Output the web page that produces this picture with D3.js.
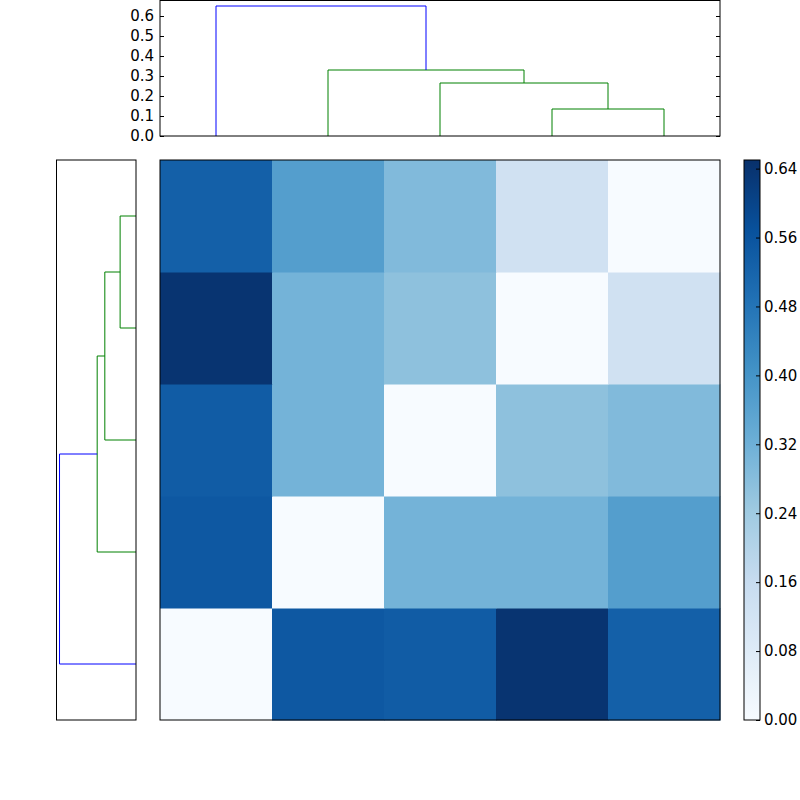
<!DOCTYPE html><html><head><script src="https://cdn.jsdelivr.net/npm/d3@7"></script>
<style>body{margin:0;background:#fff}text{font-family:"DejaVu Sans";font-size:15px}</style></head><body>
<svg id="c" width="800" height="800"></svg>
<script>
const leaves=["A","B","C","D","E"];
const matrix=[
[0.00,0.55,0.54,0.64,0.53],
[0.55,0.00,0.31,0.31,0.37],
[0.54,0.31,0.00,0.27,0.29],
[0.64,0.31,0.27,0.00,0.13],
[0.53,0.37,0.29,0.13,0.00]];
const linkage=[[3,4,0.135],[2,5,0.265],[1,6,0.33],[0,7,0.65]];
const dendroTicks=[0,0.1,0.2,0.3,0.4,0.5,0.6];
const cbarTicks=[0,0.08,0.16,0.24,0.32,0.40,0.48,0.56,0.64];
const vmax=0.65;
const bluesStops=["#f7fbff","#deebf7","#c6dbef","#9ecae1","#6baed6","#4292c6","#2171b5","#08519c","#08306b"];
const blues=d3.scaleLinear().domain(d3.range(9).map(i=>i/8)).range(bluesStops).interpolate(d3.interpolateRgb);

const svg=d3.select("#c");
const H={x0:160,x1:720,y0:160,y1:720};
const band=d3.scaleBand().domain(d3.range(5)).range([H.x0,H.x1]);
const rowBand=d3.scaleBand().domain(d3.range(5).reverse()).range([H.y0,H.y1]);
const color=v=>blues(v/vmax);
matrix.forEach((row,i)=>row.forEach((v,j)=>{
 svg.append("rect").attr("x",band(j)).attr("y",rowBand(i)).attr("width",band.bandwidth()+0.5).attr("height",rowBand.bandwidth()+0.5).attr("fill",color(v));
}));
svg.append("rect").attr("x",H.x0).attr("y",H.y0).attr("width",560).attr("height",560).attr("fill","none").attr("stroke","#000");

function dendro(posOf){
 const pos={},ht={};
 leaves.forEach((l,i)=>{pos[i]=posOf(i);ht[i]=0;});
 const segs=[];
 linkage.forEach((m,k)=>{
  const id=5+k,[a,b,h]=m;
  segs.push({a:pos[a],ha:ht[a],b:pos[b],hb:ht[b],h,col:k===linkage.length-1?"#0000ff":"#008000"});
  pos[id]=(pos[a]+pos[b])/2;ht[id]=h;
 });
 return segs;
}
const ty=d3.scaleLinear().domain([0,0.68]).range([136,0]);
const tg=svg.append("g");
dendro(i=>band(i)+band.bandwidth()/2).forEach(s=>{
 tg.append("path").attr("d",`M${s.a},${ty(s.ha)}V${ty(s.h)}H${s.b}V${ty(s.hb)}`).attr("fill","none").attr("stroke",s.col);
});
tg.append("rect").attr("x",160).attr("y",0.5).attr("width",560).attr("height",135.5).attr("fill","none").attr("stroke","#000");
const ax=svg.append("g").attr("transform","translate(160,0)").call(d3.axisLeft(ty).tickValues(dendroTicks).tickFormat(d3.format(".1f")).tickSize(-4).tickPadding(6));
ax.select(".domain").remove();ax.selectAll("text").style("font-size","15px").style("font-family","DejaVu Sans").attr("fill","#000");
const ax2=svg.append("g").attr("transform","translate(720,0)").call(d3.axisRight(ty).tickValues(dendroTicks).tickSize(-4).tickFormat(""));
ax2.select(".domain").remove();
const lx=d3.scaleLinear().domain([0,0.68]).range([136,56]);
const lg=svg.append("g");
dendro(i=>rowBand(i)+rowBand.bandwidth()/2).forEach(s=>{
 lg.append("path").attr("d",`M${lx(s.ha)},${s.a}H${lx(s.h)}V${s.b}H${lx(s.hb)}`).attr("fill","none").attr("stroke",s.col);
});
lg.append("rect").attr("x",56.5).attr("y",160).attr("width",79.5).attr("height",560).attr("fill","none").attr("stroke","#000");

const cy=d3.scaleLinear().domain([0,vmax]).range([720,160]);
const grad=svg.append("defs").append("linearGradient").attr("id","g").attr("x1",0).attr("y1",1).attr("x2",0).attr("y2",0);
bluesStops.forEach((c,i)=>grad.append("stop").attr("offset",i/8).attr("stop-color",c));
svg.append("rect").attr("x",744).attr("y",160).attr("width",16).attr("height",560).attr("fill","url(#g)").attr("stroke","#000");
const cax=svg.append("g").attr("transform","translate(760,0)").call(d3.axisRight(cy).tickValues(cbarTicks).tickFormat(d3.format(".2f")).tickSize(-4).tickPadding(4));
cax.select(".domain").remove();cax.selectAll("text").style("font-size","15px").style("font-family","DejaVu Sans").attr("fill","#000");
</script></body></html>
